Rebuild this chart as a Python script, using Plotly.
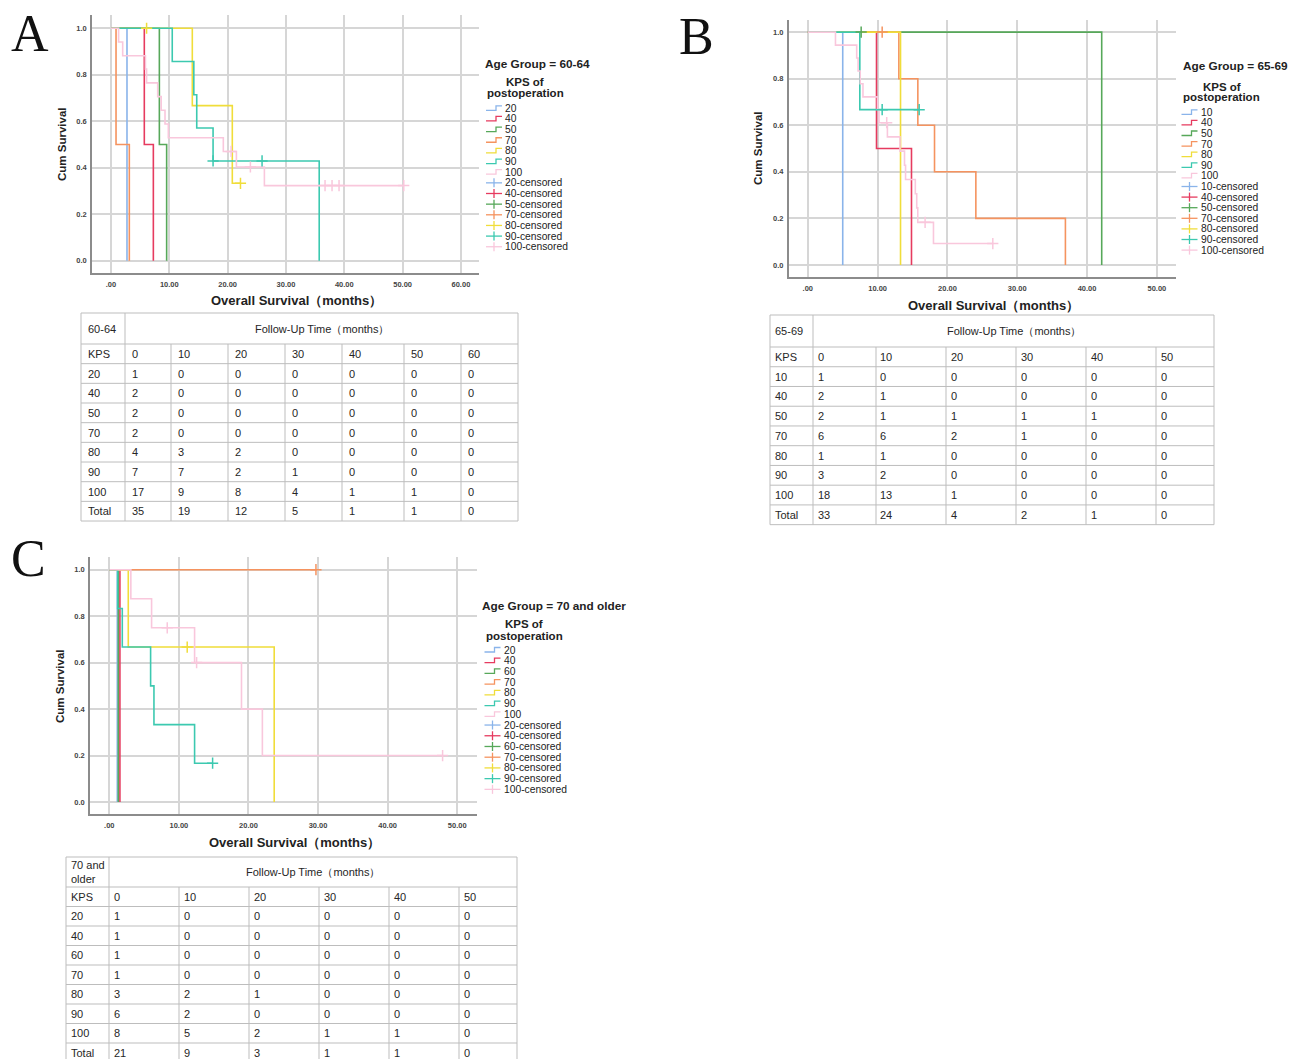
import plotly.graph_objects as go

# ---------------- data ----------------
XTICK_VALS = [0, 10, 20, 30, 40, 50, 60]
XTICK_TEXT = [".00", "10.00", "20.00", "30.00", "40.00", "50.00", "60.00"]
YTICK_VALS = [0, 0.2, 0.4, 0.6, 0.8, 1.0]
YTICK_TEXT = ["0.0", "0.2", "0.4", "0.6", "0.8", "1.0"]

# Panel A: Age Group = 60-64 (step times / survival levels, censored marks)
A_KPS = ["20", "40", "50", "70", "80", "90", "100"]
A20_T = [0, 2.74];                      A20_S = [1.0, 0.0]
A40_T = [0, 5.71, 7.26];                A40_S = [1.0, 0.5, 0.0]
A50_T = [0, 8.29, 9.54];                A50_S = [1.0, 0.5, 0.0]
A70_T = [0, 0.86, 3.14];                A70_S = [1.0, 0.5, 0.0]
A80_T = [0, 13.94, 20.8, 22.2];         A80_S = [1.0, 0.667, 0.333, 0.333]
A80_CT = [6.1, 22.2];                   A80_CS = [1.0, 0.333]
A90_T = [0, 10.5, 14.2, 14.7, 17.5, 35.7]
A90_S = [1.0, 0.857, 0.714, 0.571, 0.429, 0.0]
A90_CT = [17.5, 25.9];                  A90_CS = [0.429, 0.429]
A100_T = [0, 1.3, 2.0, 5.9, 6.1, 8.0, 8.6, 9.26, 9.83, 19.26, 21.5, 26.3, 50.2]
A100_S = [1.0, 0.941, 0.882, 0.824, 0.765, 0.706, 0.647, 0.588, 0.529, 0.470, 0.403, 0.323, 0.323]
A100_CT = [20.6, 23.9, 36.7, 37.9, 39.1, 50.2]
A100_CS = [0.470, 0.403, 0.323, 0.323, 0.323, 0.323]

# Panel B: Age Group = 65-69
B_KPS = ["10", "40", "50", "70", "80", "90", "100"]
B10_T = [0, 5.0];                       B10_S = [1.0, 0.0]
B40_T = [0, 9.84, 14.85];               B40_S = [1.0, 0.5, 0.0]
B50_T = [0, 42.1];                      B50_S = [1.0, 0.0]
B50_CT = [7.64];                        B50_CS = [1.0]
B70_T = [0, 13.04, 15.76, 18.15, 24.07, 36.9]
B70_S = [1.0, 0.8, 0.6, 0.4, 0.2, 0.0]
B70_CT = [10.65];                       B70_CS = [1.0]
B80_T = [0, 13.28];                     B80_S = [1.0, 0.0]
B90_T = [0, 7.45, 15.95];               B90_S = [1.0, 0.667, 0.667]
B90_CT = [10.65, 15.95];                B90_CS = [0.667, 0.667]
B100_T = [0, 3.96, 7.0, 7.2, 7.5, 7.9, 9.98, 10.2, 11.4, 13.2, 13.85, 14.0, 15.4, 15.6, 15.75, 18.0, 26.5]
B100_S = [1.0, 0.944, 0.889, 0.833, 0.778, 0.722, 0.667, 0.611, 0.55, 0.489, 0.428, 0.367, 0.306, 0.245, 0.183, 0.092, 0.092]
B100_CT = [11.3, 16.8, 26.5];           B100_CS = [0.611, 0.183, 0.092]

# Panel C: Age Group = 70 and older
C_KPS = ["20", "40", "60", "70", "80", "90", "100"]
C20_T = [0, 1.15];                      C20_S = [1.0, 0.0]
C40_T = [0, 1.53];                      C40_S = [1.0, 0.0]
C60_T = [0, 1.3];                       C60_S = [1.0, 0.0]
C70_T = [0, 29.7];                      C70_S = [1.0, 1.0]
C70_CT = [29.7];                        C70_CS = [1.0]
C80_T = [0, 2.73, 23.7];                C80_S = [1.0, 0.667, 0.0]
C80_CT = [11.2];                        C80_CS = [0.667]
C90_T = [0, 1.2, 1.87, 5.94, 6.42, 12.26, 14.85]
C90_S = [1.0, 0.833, 0.667, 0.5, 0.333, 0.167, 0.167]
C90_CT = [14.85];                       C90_CS = [0.167]
C100_T = [0, 3.1, 6.08, 12.26, 19.0, 22.0, 47.9]
C100_S = [1.0, 0.875, 0.75, 0.6, 0.4, 0.2, 0.2]
C100_CT = [8.33, 12.55, 47.9];          C100_CS = [0.75, 0.6, 0.2]

# Number-at-risk tables
A_TBL_CORNER = "60-64"
A_TBL_COLS = ["0", "10", "20", "30", "40", "50", "60"]
A_TBL_ROWS = ["20", "40", "50", "70", "80", "90", "100", "Total"]
A_TBL_VALS = [[1, 0, 0, 0, 0, 0, 0], [2, 0, 0, 0, 0, 0, 0], [2, 0, 0, 0, 0, 0, 0],
              [2, 0, 0, 0, 0, 0, 0], [4, 3, 2, 0, 0, 0, 0], [7, 7, 2, 1, 0, 0, 0],
              [17, 9, 8, 4, 1, 1, 0], [35, 19, 12, 5, 1, 1, 0]]
B_TBL_CORNER = "65-69"
B_TBL_COLS = ["0", "10", "20", "30", "40", "50"]
B_TBL_ROWS = ["10", "40", "50", "70", "80", "90", "100", "Total"]
B_TBL_VALS = [[1, 0, 0, 0, 0, 0], [2, 1, 0, 0, 0, 0], [2, 1, 1, 1, 1, 0],
              [6, 6, 2, 1, 0, 0], [1, 1, 0, 0, 0, 0], [3, 2, 0, 0, 0, 0],
              [18, 13, 1, 0, 0, 0], [33, 24, 4, 2, 1, 0]]
C_TBL_CORNER = "70 and<br>older"
C_TBL_COLS = ["0", "10", "20", "30", "40", "50"]
C_TBL_ROWS = ["20", "40", "60", "70", "80", "90", "100", "Total"]
C_TBL_VALS = [[1, 0, 0, 0, 0, 0], [1, 0, 0, 0, 0, 0], [1, 0, 0, 0, 0, 0],
              [1, 0, 0, 0, 0, 0], [3, 2, 1, 0, 0, 0], [6, 2, 0, 0, 0, 0],
              [8, 5, 2, 1, 1, 0], [21, 9, 3, 1, 1, 0]]

# ---------------- style ----------------
W, H = 1294, 1059
FONT = "Liberation Sans"
COLORS = {"10": "#8ab4ea", "20": "#8ab4ea", "40": "#e63b5f", "50": "#57a85a",
          "60": "#57a85a", "70": "#f5935f", "80": "#f0dd3a", "90": "#3cc9b0",
          "100": "#f9c7dc"}
AXIS_COL = "#8c8c8c"
GRID_COL = "#d6d6d6"
TBL_LINE = "#bdbdbd"
TXT = "#222222"
TBL_TXT = "#262626"


def fx(p):
    return p / W


def fy(p):
    return 1 - p / H


fig = go.Figure()
annotations = []
shapes = []

panels = [
    dict(xa="x", ya="y", kps=A_KPS,
         curves=[(A20_T, A20_S, [], []), (A40_T, A40_S, [], []), (A50_T, A50_S, [], []),
                 (A70_T, A70_S, [], []), (A80_T, A80_S, A80_CT, A80_CS),
                 (A90_T, A90_S, A90_CT, A90_CS), (A100_T, A100_S, A100_CT, A100_CS)]),
    dict(xa="x2", ya="y2", kps=B_KPS,
         curves=[(B10_T, B10_S, [], []), (B40_T, B40_S, [], []), (B50_T, B50_S, B50_CT, B50_CS),
                 (B70_T, B70_S, B70_CT, B70_CS), (B80_T, B80_S, [], []),
                 (B90_T, B90_S, B90_CT, B90_CS), (B100_T, B100_S, B100_CT, B100_CS)]),
    dict(xa="x3", ya="y3", kps=C_KPS,
         curves=[(C20_T, C20_S, [], []), (C40_T, C40_S, [], []), (C60_T, C60_S, [], []),
                 (C70_T, C70_S, C70_CT, C70_CS), (C80_T, C80_S, C80_CT, C80_CS),
                 (C90_T, C90_S, C90_CT, C90_CS), (C100_T, C100_S, C100_CT, C100_CS)]),
]

for p in panels:
    for k, (t, s, ct, cs) in zip(p["kps"], p["curves"]):
        c = COLORS[k]
        fig.add_trace(go.Scatter(x=t, y=s, mode="lines", xaxis=p["xa"], yaxis=p["ya"],
                                 line=dict(color=c, width=1.6, shape="hv"),
                                 showlegend=False, hoverinfo="skip"))
    for k, (t, s, ct, cs) in zip(p["kps"], p["curves"]):
        if ct:
            c = COLORS[k]
            fig.add_trace(go.Scatter(x=ct, y=cs, mode="markers", xaxis=p["xa"], yaxis=p["ya"],
                                     marker=dict(symbol="cross-thin", size=8, color=c,
                                                 line=dict(color=c, width=1.5)),
                                     showlegend=False, hoverinfo="skip"))

TICKFONT = dict(family=FONT, size=7.5, color="#444444", weight="bold")


def xcfg(dom, anchor, rng):
    return dict(domain=dom, anchor=anchor, range=rng, tickmode="array",
                tickvals=XTICK_VALS, ticktext=XTICK_TEXT, showline=True,
                linecolor=AXIS_COL, linewidth=1.5, showgrid=True, gridcolor=GRID_COL,
                gridwidth=1.5, zeroline=False, ticks="", tickfont=TICKFONT,
                ticklabelstandoff=3, fixedrange=True)


def ycfg(dom, anchor, rng):
    return dict(domain=dom, anchor=anchor, range=rng, tickmode="array",
                tickvals=YTICK_VALS, ticktext=YTICK_TEXT, showline=True,
                linecolor=AXIS_COL, linewidth=1.5, showgrid=True, gridcolor=GRID_COL,
                gridwidth=1.5, zeroline=False, ticks="", tickfont=TICKFONT,
                ticklabelstandoff=2, fixedrange=True)


def ann(text, x, y, size=10, bold=False, xanchor="left", family=FONT, color=TXT,
        angle=0, align="center"):
    annotations.append(dict(text=text, x=fx(x), y=fy(y), xref="paper", yref="paper",
                            xanchor=xanchor, yanchor="middle", showarrow=False,
                            textangle=angle, align=align,
                            font=dict(family=family, size=size, color=color,
                                      weight="bold" if bold else "normal")))


def line(x0, y0, x1, y1, color, width=1):
    shapes.append(dict(type="line", xref="paper", yref="paper", x0=fx(x0), y0=fy(y0),
                       x1=fx(x1), y1=fy(y1), line=dict(color=color, width=width)))


def path(pts, color, width=1.3):
    d = "M " + " L ".join(f"{fx(a):.5f},{fy(b):.5f}" for a, b in pts)
    shapes.append(dict(type="path", xref="paper", yref="paper", path=d,
                       line=dict(color=color, width=width)))


# panel letters
ann("A", 30, 34, size=52, family="Liberation Serif", xanchor="center", color="#111")
ann("B", 696, 36, size=52, family="Liberation Serif", xanchor="center", color="#111")
ann("C", 28, 558, size=52, family="Liberation Serif", xanchor="center", color="#111")

# axis titles
XT = "Overall Survival（months）"
ann(XT, 296, 300, size=13, bold=True, xanchor="center")
ann(XT, 993, 305, size=13, bold=True, xanchor="center")
ann(XT, 294, 842, size=13, bold=True, xanchor="center")
ann("Cum Survival", 62, 144, size=11.5, bold=True, xanchor="center", angle=-90)
ann("Cum Survival", 758, 148, size=11.5, bold=True, xanchor="center", angle=-90)
ann("Cum Survival", 60, 686, size=11.5, bold=True, xanchor="center", angle=-90)


def legend(title, tx, ty, kcx, ky1, ky2, gx0, txt_x, y0, step, kps):
    ann(title, tx, ty, size=11.8, bold=True)
    ann("KPS of", kcx, ky1, size=11.5, bold=True, xanchor="center")
    ann("postoperation", kcx, ky2, size=11.5, bold=True, xanchor="center")
    labels = list(kps) + [k + "-censored" for k in kps]
    gx1 = gx0 + 16
    for i, lab in enumerate(labels):
        y = y0 + i * step
        c = COLORS[kps[i % len(kps)]]
        if i < len(kps):
            path([(gx0, y + 2), (gx0 + 10, y + 2), (gx0 + 10, y - 2.5), (gx1, y - 2.5)], c)
        else:
            line(gx0, y, gx1, y, c, 1.3)
            line(gx0 + 8, y - 4.5, gx0 + 8, y + 4.5, c, 1.3)
        ann(lab, txt_x, y, size=10.3)


legend("Age Group = 60-64", 483, 64, 525, 81.5, 93, 486, 503, 108.3, 10.65, A_KPS)
legend("Age Group = 65-69", 1181, 66, 1221.5, 86.5, 97, 1181.5, 1198.5, 112.3, 10.6, B_KPS)
legend("Age Group = 70 and older", 480, 606, 524, 624.3, 635.7, 484.5, 502, 650, 10.72, C_KPS)


def table(left, top, widths, hh, rh, corner, cols, rows, vals, pad):
    xs = [left]
    for w in widths:
        xs.append(xs[-1] + w)
    nrows = len(rows) + 1
    ys = [top, top + hh] + [top + hh + rh * (i + 1) for i in range(nrows)]
    bottom = ys[-1]
    for y in ys:
        line(xs[0], y, xs[-1], y, TBL_LINE, 1)
    line(xs[0], top, xs[0], bottom, TBL_LINE, 1)
    line(xs[1], top, xs[1], bottom, TBL_LINE, 1)
    line(xs[-1], top, xs[-1], bottom, TBL_LINE, 1)
    for x in xs[2:-1]:
        line(x, ys[1], x, bottom, TBL_LINE, 1)
    ann(corner, xs[0] + pad, (ys[0] + ys[1]) / 2, size=11, color=TBL_TXT, align="left")
    ann("Follow-Up Time（months）", (xs[1] + xs[-1]) / 2, (ys[0] + ys[1]) / 2, size=11,
        xanchor="center", color=TBL_TXT)
    hdr = ["KPS"] + list(cols)
    for j, t in enumerate(hdr):
        ann(t, xs[j] + pad, (ys[1] + ys[2]) / 2, size=11, color=TBL_TXT)
    for i, (r, v) in enumerate(zip(rows, vals)):
        yc = (ys[i + 2] + ys[i + 3]) / 2
        ann(r, xs[0] + pad, yc, size=11, color=TBL_TXT)
        for j, val in enumerate(v):
            ann(str(val), xs[j + 1] + pad, yc, size=11, color=TBL_TXT)


table(81, 313, [44, 46, 57, 57, 57, 62, 57, 57], 31, 19.67,
      A_TBL_CORNER, A_TBL_COLS, A_TBL_ROWS, A_TBL_VALS, 5)
table(770, 315, [43, 63, 70, 70, 70, 70, 58], 32, 19.74,
      B_TBL_CORNER, B_TBL_COLS, B_TBL_ROWS, B_TBL_VALS, 2.5)
table(66, 857, [43, 70, 70, 70, 70, 70, 58], 30, 19.5,
      C_TBL_CORNER, C_TBL_COLS, C_TBL_ROWS, C_TBL_VALS, 2.5)

fig.update_layout(
    width=W, height=H, autosize=False,
    margin=dict(l=0, r=0, t=0, b=0),
    paper_bgcolor="white", plot_bgcolor="white",
    font=dict(family=FONT, color=TXT),
    showlegend=False,
    xaxis=xcfg([fx(92), fx(479)], "y", [-3.26, 63.1]),
    yaxis=ycfg([fy(273), fy(15)], "x", [-0.053, 1.057]),
    xaxis2=xcfg([fx(788.7), fx(1175.7)], "y2", [-2.74, 52.7]),
    yaxis2=ycfg([fy(277.3), fy(20)], "x2", [-0.053, 1.052]),
    xaxis3=xcfg([fx(90), fx(476.7)], "y3", [-2.77, 52.8]),
    yaxis3=ycfg([fy(814.3), fy(556.7)], "x3", [-0.053, 1.056]),
    annotations=annotations,
    shapes=shapes,
)

fig.write_html("out.html", config={"displayModeBar": False},
               post_script="document.body.style.margin='0px';document.body.style.overflow='hidden';")
